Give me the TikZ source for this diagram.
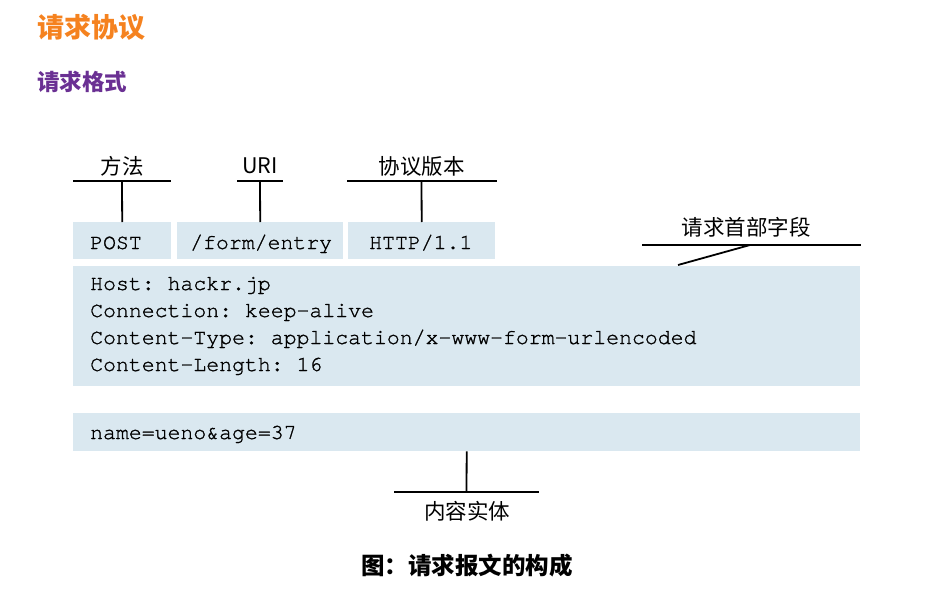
\documentclass[tikz,border=0pt]{standalone}
\usepackage{fontspec}
\setmainfont{Noto Sans CJK SC}
\setmonofont[FakeBold=1.2]{TeX Gyre Cursor}
\newfontfamily\cjk{Noto Sans CJK SC}
\definecolor{boxfill}{HTML}{DAE8F0}
\definecolor{titleorange}{HTML}{F5821F}
\definecolor{titlepurple}{HTML}{6A3093}
\tikzset{
  fieldbox/.style={fill=boxfill, draw=none, anchor=north west, inner sep=0pt},
  codetext/.style={font=\ttfamily\fontsize{21.5}{21.5}\selectfont, anchor=base west, inner sep=0pt},
  label/.style={font=\cjk\fontsize{21.5}{21.5}\selectfont, inner sep=0pt},
  conn/.style={line width=1.8pt, black},
}
\begin{document}
\begin{tikzpicture}[x=1pt,y=-1pt]
\useasboundingbox (0,0) rectangle (952,599);

% titles
\node[anchor=west, inner sep=0pt, text=titleorange, font=\cjk\bfseries\fontsize{27}{27}\selectfont] (t1) at (37,27) {请求协议};
\node[anchor=west, inner sep=0pt, text=titlepurple, font=\cjk\bfseries\fontsize{22.5}{22.5}\selectfont] (t2) at (37,82) {请求格式};

% boxes
\node[fieldbox, minimum width=98pt, minimum height=37pt] (post) at (73,222) {};
\node[fieldbox, minimum width=166pt, minimum height=37pt] (uri) at (177,222) {};
\node[fieldbox, minimum width=147pt, minimum height=37pt] (ver) at (348,222) {};
\node[fieldbox, minimum width=787pt, minimum height=120pt] (hdr) at (73,266) {};
\node[fieldbox, minimum width=787pt, minimum height=38pt] (body) at (73,413) {};

% box texts
\node[codetext] (postt) at (90,249) {POST};
\node[codetext] (urit) at (190,249) {/form/entry};
\node[codetext] (vert) at (369,249) {HTTP/1.1};
\node[codetext] (h1) at (90,290) {Host: hackr.jp};
\node[codetext] (h2) at (90,317) {Connection: keep-alive};
\node[codetext] (h3) at (90,344) {Content-Type: application/x-www-form-urlencoded};
\node[codetext] (h4) at (90,371) {Content-Length: 16};
\node[codetext] (b1) at (90,439) {name=ueno\&age=37};

% labels
\node[label] (lmethod) at (122,166) {方法};
\node[label] (luri) at (260,166) {URI};
\node[label] (lver) at (421.5,166) {协议版本};
\node[label] (lhdr) at (746,227) {请求首部字段};
\node[label] (lbody) at (467,511) {内容实体};

% label bars
\coordinate (m1) at (73,181); \coordinate (m2) at (171,181); \coordinate (mm) at (122,181);
\coordinate (u1) at (237,181); \coordinate (u2) at (283,181); \coordinate (um) at (260,181);
\coordinate (v1) at (347,181); \coordinate (v2) at (497,181); \coordinate (vm) at (421.5,181);
\coordinate (hh1) at (642,245); \coordinate (hh2) at (861,245); \coordinate (hm) at (750,245);
\coordinate (hend) at (678,265);
\coordinate (bb1) at (394,492); \coordinate (bb2) at (539,492); \coordinate (bm) at (466.5,492);

\draw[conn] (m1) -- (m2);
\draw[conn] (mm) -- (post.north);
\draw[conn] (u1) -- (u2);
\draw[conn] (um) -- (uri.north);
\draw[conn] (v1) -- (v2);
\draw[conn] (vm) -- (ver.north);
\draw[conn] (hh1) -- (hh2);
\draw[conn] (hm) -- (hend);
\draw[conn] (body.south) -- (bm);
\draw[conn] (bb1) -- (bb2);

% caption
\node[inner sep=0pt, font=\cjk\bfseries\fontsize{23.5}{23.5}\selectfont] (cap) at (467,566) {图：请求报文的构成};
\end{tikzpicture}
\end{document}
